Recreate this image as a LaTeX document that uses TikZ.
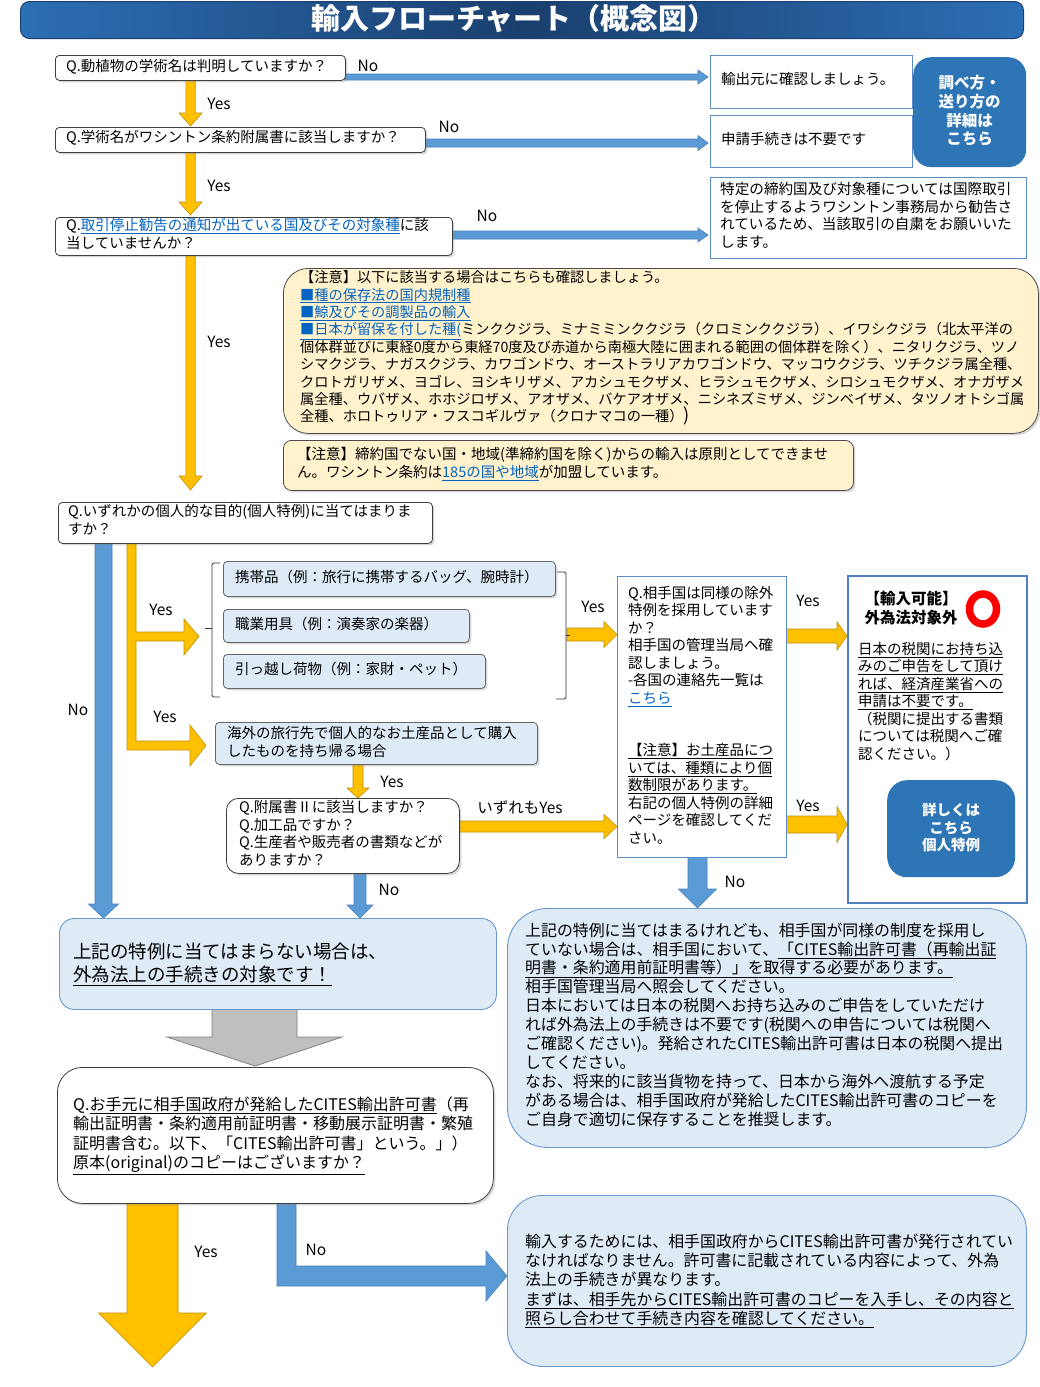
\documentclass[tikz,border=0pt]{standalone}
\usepackage{fontspec}
\setmainfont{Noto Sans CJK JP}
\usetikzlibrary{shadows}
\definecolor{linkblue}{HTML}{0563C1}
\definecolor{lb}{HTML}{DEEBF7}
\definecolor{noteY}{HTML}{FFF2CC}
\definecolor{arB}{HTML}{5B9BD5}
\definecolor{arBd}{HTML}{4A7EBB}
\definecolor{arY}{HTML}{FFC000}
\definecolor{arYd}{HTML}{C09000}
\definecolor{btn}{HTML}{2E75B6}
\definecolor{ansb}{HTML}{5B8CC8}
\definecolor{rboxb}{HTML}{4F7FBF}
\definecolor{tbl}{HTML}{2C6FB5}
\definecolor{tbd}{HTML}{1A3F6E}
\definecolor{resb}{HTML}{6A98CC}
\definecolor{grayA}{HTML}{BFBFBF}
\definecolor{grayB}{HTML}{7F7F7F}
\newcommand\lnk[1]{\textcolor{linkblue}{\underline{#1}}}
\newcommand\unl[1]{\underline{#1}}
\newcommand\hblk[7]{\filldraw[#7] (#1,#3-#4) -- (#2-#6,#3-#4) -- (#2-#6,#3-#5) -- (#2,#3) -- (#2-#6,#3+#5) -- (#2-#6,#3+#4) -- (#1,#3+#4) -- cycle;}
\newcommand\vblk[7]{\filldraw[#7] (#1-#4,#2) -- (#1-#4,#3-#6) -- (#1-#5,#3-#6) -- (#1,#3) -- (#1+#5,#3-#6) -- (#1+#4,#3-#6) -- (#1+#4,#2) -- cycle;}
\tikzset{
  blueA/.style={fill=arB, draw=arBd, line width=0.6pt},
  yelA/.style={fill=arY, draw=arYd, line width=0.6pt},
  shad/.style={drop shadow={shadow xshift=2pt, shadow yshift=-2pt, opacity=0.3}},
  qbox/.style={draw=black!75, line width=0.8pt, fill=white, rounded corners=4pt, shad, anchor=north west, inner sep=0},
  ansbox/.style={draw=ansb, line width=0.8pt, fill=white, anchor=north west, inner sep=0},
  lbox/.style={draw=black!60, line width=0.8pt, fill=lb, rounded corners=4pt, shad, anchor=north west, inner sep=0},
  notebox/.style={draw=black!70, line width=0.8pt, fill=noteY, shad, anchor=north west, inner sep=0},
  resbox/.style={draw=resb, line width=0.9pt, fill=lb, anchor=north west, inner sep=0},
  btnbox/.style={fill=btn, anchor=north west, inner sep=0},
  t1/.style={inner sep=0, anchor=west, font=\fontsize{14.5}{18}\selectfont},
  tm/.style={inner sep=0, anchor=north west, align=left},
  lab/.style={inner sep=0, font=\fontsize{15.5}{17}\selectfont},
}
\begin{document}
\begin{tikzpicture}[x=1pt,y=-1pt]
\useasboundingbox (0,0) rectangle (1040,1387);
\fill[white] (0,0) rectangle (1040,1387);

% title bar
\node[draw=tbd, line width=1pt, rounded corners=9pt, left color=tbl, right color=tbl, middle color=tbd, minimum width=1003pt, minimum height=37pt, inner sep=0, anchor=north west] (titlebar) at (20,1) {};
\node[inner sep=0, font=\fontsize{29}{29}\selectfont\bfseries, text=white] (title) at (514,19) {輸入フローチャート（概念図）};

% ---------- block arrows ----------
\hblk{345}{708}{77}{3}{7}{10}{blueA}
\hblk{425}{708}{143}{4}{7.5}{10}{blueA}
\hblk{452}{708}{235}{4}{7}{10}{blueA}
\vblk{103.5}{543}{918}{8.5}{15}{14}{blueA}
\vblk{360}{873}{918}{6}{13}{13}{blueA}
\vblk{697.5}{857}{908}{9.5}{19}{19}{blueA}
\filldraw[blueA] (277,1203) -- (296,1203) -- (296,1266) -- (486,1266) -- (486,1251) -- (507,1276) -- (486,1301) -- (486,1286) -- (277,1286) -- cycle;

\vblk{190.5}{80}{126}{4.7}{11.5}{13}{yelA}
\vblk{190.5}{152}{215}{4.7}{11.5}{13}{yelA}
\vblk{190.5}{255}{490}{4.7}{11.5}{14}{yelA}
\filldraw[yelA] (127,543) -- (136,543) -- (136,632) -- (184,632) -- (184,619) -- (199,636.5) -- (184,655) -- (184,641) -- (136,641) -- (136,741) -- (190,741) -- (190,725) -- (206,745.5) -- (190,766) -- (190,750) -- (127,750) -- cycle;
\vblk{358}{764}{798}{5}{11}{10}{yelA}
\hblk{567}{617}{634.5}{6.5}{13}{13}{yelA}
\hblk{459}{617}{826.5}{5.5}{12}{13}{yelA}
\hblk{786}{847}{636}{7}{14}{10}{yelA}
\hblk{786}{847}{824.5}{8.5}{18}{10}{yelA}
\vblk{152.5}{1203}{1367}{25.5}{54}{54}{yelA}

\filldraw[fill=grayA, draw=grayB, line width=0.8pt] (212,1009) -- (297,1009) -- (297,1037) -- (342,1037) -- (255,1066) -- (167,1037) -- (212,1037) -- cycle;

% ---------- boxes ----------
\node[qbox, minimum width=290pt, minimum height=25pt] (q1) at (55,55) {};
\node[qbox, minimum width=370pt, minimum height=25pt] (q2) at (55,127) {};
\node[qbox, minimum width=397pt, minimum height=38pt] (q3) at (55,217) {};
\node[ansbox, minimum width=202pt, minimum height=53pt] (a1) at (710,55) {};
\node[ansbox, minimum width=202pt, minimum height=52pt] (a2) at (710,115) {};
\node[btnbox, rounded corners=18pt, minimum width=113pt, minimum height=110pt] (btn1) at (913,57) {};
\node[ansbox, minimum width=316pt, minimum height=81pt] (a3) at (710,177) {};
\node[notebox, rounded corners=25pt, minimum width=755pt, minimum height=165pt] (note1) at (283,268) {};
\node[notebox, rounded corners=8pt, minimum width=570pt, minimum height=50pt] (note2) at (283,440) {};
\node[qbox, minimum width=374pt, minimum height=41pt] (q4) at (58,502) {};
\node[lbox, minimum width=332pt, minimum height=35pt] (b1) at (223,561) {};
\node[lbox, minimum width=246pt, minimum height=33pt] (b2) at (223,609) {};
\node[lbox, minimum width=262pt, minimum height=34pt] (b3) at (223,654) {};
\node[lbox, minimum width=322pt, minimum height=42pt] (b4) at (215,722) {};
\node[qbox, rounded corners=12pt, minimum width=233pt, minimum height=75pt] (q5) at (226,798) {};
\node[ansbox, minimum width=169pt, minimum height=281pt] (q6) at (617,576) {};
\node[ansbox, draw=rboxb, line width=1.6pt, minimum width=179pt, minimum height=327pt] (rbox) at (847,575) {};
\node[btnbox, rounded corners=20pt, minimum width=128pt, minimum height=97pt] (btn2) at (887,780) {};
\node[resbox, rounded corners=15pt, minimum width=437pt, minimum height=91pt] (resA) at (59,918) {};
\node[qbox, rounded corners=25pt, minimum width=436pt, minimum height=136pt] (q7) at (57,1067) {};
\node[resbox, rounded corners=40pt, minimum width=519pt, minimum height=239pt] (resB) at (507,908) {};
\node[resbox, rounded corners=35pt, minimum width=519pt, minimum height=171pt] (resC) at (507,1195) {};

% brackets
\draw[black!80, line width=0.8pt, rounded corners=1.5pt] (220,563) -- (212,563) -- (212,697) -- (220,697);
\draw[black!80, line width=0.8pt] (212,628) -- (205,628);
\draw[black!80, line width=0.8pt, rounded corners=1.5pt] (557,572) -- (566,572) -- (566,699) -- (556,699);
\draw[black!80, line width=0.8pt] (566,635) -- (570,635);

% red circle
\draw[red, line width=7.5pt] (983,609) ellipse [x radius=13.5, y radius=15];

% ---------- texts ----------
\node[t1] (q1t) at (66,67) {Q.動植物の学術名は判明していますか？};
\node[t1] (q2t) at (66,138) {Q.学術名がワシントン条約附属書に該当しますか？};
\node[tm, font=\fontsize{14.5}{18}\selectfont] (q3t) at (66,218) {Q.\lnk{取引停止勧告の通知が出ている国及びその対象種}に該\\当していませんか？};
\node[t1] (a1t) at (721,79) {輸出元に確認しましょう。};
\node[t1] (a2t) at (721,139) {申請手続きは不要です};
\node[inner sep=0, align=center, text=white, font=\fontsize{15.5}{18.7}\selectfont\bfseries] (btn1t) at (969.5,111) {調べ方・\\送り方の\\詳細は\\こちら};
\node[tm, font=\fontsize{14.6}{17.7}\selectfont] (a3t) at (720,182) {特定の締約国及び対象種については国際取引\\を停止するようワシントン事務局から勧告さ\\れているため、当該取引の自粛をお願いいた\\します。};

\node[tm, font=\fontsize{14.2}{17.4}\selectfont] (note1t) at (300,270.5) {【注意】以下に該当する場合はこちらも確認しましょう。\\
\lnk{■種の保存法の国内規制種}\\
\lnk{■鯨及びその調製品の輸入}\\
\lnk{■日本が留保を付した種(}ミンククジラ、ミナミミンククジラ（クロミンククジラ）、イワシクジラ（北太平洋の\\
個体群並びに東経0度から東経70度及び赤道から南極大陸に囲まれる範囲の個体群を除く）、ニタリクジラ、ツノ\\
シマクジラ、ナガスクジラ、カワゴンドウ、オーストラリアカワゴンドウ、マッコウクジラ、ツチクジラ属全種、\\
クロトガリザメ、ヨゴレ、ヨシキリザメ、アカシュモクザメ、ヒラシュモクザメ、シロシュモクザメ、オナガザメ\\
属全種、ウバザメ、ホホジロザメ、アオザメ、バケアオザメ、ニシネズミザメ、ジンベイザメ、タツノオトシゴ属\\
全種、ホロトゥリア・フスコギルヴァ（クロナマコの一種）{\fontsize{18}{17.4}\selectfont )}};
\node[tm, font=\fontsize{14.5}{18}\selectfont] (note2t) at (297,447) {【注意】締約国でない国・地域(準締約国を除く)からの輸入は原則としてできませ\\ん。ワシントン条約は\lnk{185の国や地域}が加盟しています。};

\node[tm, font=\fontsize{14.5}{18}\selectfont] (q4t) at (68,504) {Q.いずれかの個人的な目的(個人特例)に当てはまりま\\すか？};
\node[t1] (b1t) at (235,577) {携帯品（例：旅行に携帯するバッグ、腕時計）};
\node[t1] (b2t) at (235,624) {職業用具（例：演奏家の楽器）};
\node[t1] (b3t) at (235,669) {引っ越し荷物（例：家財・ペット）};
\node[tm, font=\fontsize{14.5}{18}\selectfont] (b4t) at (227,726) {海外の旅行先で個人的なお土産品として購入\\したものを持ち帰る場合};
\node[tm, font=\fontsize{14.5}{17.7}\selectfont] (q5t) at (239,800) {Q.附属書Ⅱに該当しますか？\\Q.加工品ですか？\\Q.生産者や販売者の書類などが\\ありますか？};

\node[tm, font=\fontsize{14.5}{17.5}\selectfont] (q6t) at (628,586) {Q.相手国は同様の除外\\特例を採用しています\\か？\\相手国の管理当局へ確\\認しましょう。\\-各国の連絡先一覧は\\\lnk{こちら}\\\mbox{}\\\mbox{}\\\unl{【注意】お土産品につ}\\\unl{いては、種類により個}\\\unl{数制限があります。}\\右記の個人特例の詳細\\ページを確認してくだ\\さい。};

\node[inner sep=0, align=center, font=\fontsize{15.5}{19}\selectfont\bfseries] (rtitle) at (911,608.5) {【輸入可能】\\外為法対象外};
\node[tm, font=\fontsize{14.5}{17.5}\selectfont] (rt) at (858,642) {\unl{日本の税関にお持ち込}\\\unl{みのご申告をして頂け}\\\unl{れば、経済産業省への}\\\unl{申請は不要です。}\\（税関に提出する書類\\については税関へご確\\認ください。）};
\node[inner sep=0, align=center, text=white, font=\fontsize{14.5}{17.5}\selectfont\bfseries] (btn2t) at (951,827.5) {詳しくは\\こちら\\個人特例};

\node[tm, font=\fontsize{18.5}{23}\selectfont] (resAt) at (73,943) {上記の特例に当てはまらない場合は、\\\unl{外為法上の手続きの対象です！}};
\node[tm, font=\fontsize{16}{19.4}\selectfont] (q7t) at (73,1096.5) {Q.\unl{お手元に相手国政府が発給したCITES輸出許可書}（再\\輸出証明書・条約適用前証明書・移動展示証明書・繁殖\\証明書含む。以下、「CITES輸出許可書」という。」）\\\unl{原本(original)のコピーはございますか？}};
\node[tm, font=\fontsize{15.9}{18.9}\selectfont] (resBt) at (525,922.5) {上記の特例に当てはまるけれども、相手国が同様の制度を採用し\\ていない場合は、相手国において、\unl{「CITES輸出許可書（再輸出証}\\\unl{明書・条約適用前証明書等）」を取得する必要があります。}\\相手国管理当局へ照会してください。\\日本においては日本の税関へお持ち込みのご申告をしていただけ\\れば外為法上の手続きは不要です(税関への申告については税関へ\\ご確認ください)。発給されたCITES輸出許可書は日本の税関へ提出\\してください。\\なお、将来的に該当貨物を持って、日本から海外へ渡航する予定\\がある場合は、相手国政府が発給したCITES輸出許可書のコピーを\\ご自身で適切に保存することを推奨します。};
\node[tm, font=\fontsize{15.9}{19.3}\selectfont] (resCt) at (525,1233.5) {輸入するためには、相手国政府からCITES輸出許可書が発行されてい\\なければなりません。許可書に記載されている内容によって、外為\\法上の手続きが異なります。\\\unl{まずは、相手先からCITES輸出許可書のコピーを入手し、その内容と}\\\unl{照らし合わせて手続き内容を確認してください。}};

% labels
\node[lab] (l1) at (368,66) {No};
\node[lab] (l2) at (449,127) {No};
\node[lab] (l3) at (487,216) {No};
\node[lab] (l4) at (219,104) {Yes};
\node[lab] (l5) at (219,186) {Yes};
\node[lab] (l6) at (219,342) {Yes};
\node[lab] (l7) at (78,710) {No};
\node[lab] (l8) at (161,610) {Yes};
\node[lab] (l9) at (165,717) {Yes};
\node[lab] (l10) at (593,607) {Yes};
\node[lab] (l11) at (808,601) {Yes};
\node[lab] (l12) at (392,782) {Yes};
\node[lab] (l13) at (520,808) {いずれもYes};
\node[lab] (l14) at (808,806) {Yes};
\node[lab] (l15) at (389,890) {No};
\node[lab] (l16) at (735,882) {No};
\node[lab] (l17) at (206,1252) {Yes};
\node[lab] (l18) at (316,1250) {No};
\end{tikzpicture}
\end{document}
